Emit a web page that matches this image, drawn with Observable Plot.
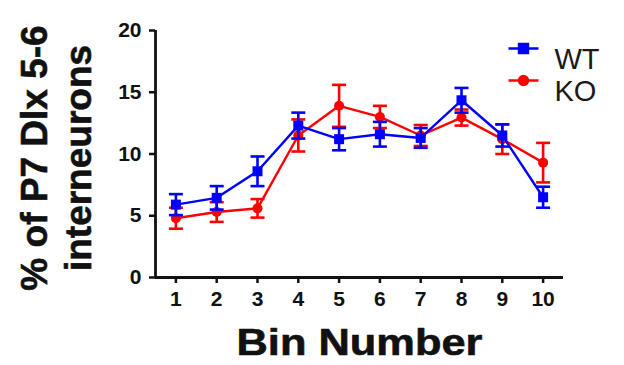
<!DOCTYPE html>
<html>
<head>
<meta charset="utf-8">
<script src="https://cdn.jsdelivr.net/npm/d3@7"></script>
<script src="https://cdn.jsdelivr.net/npm/@observablehq/plot@0.6"></script>
<style>
  html, body { margin: 0; padding: 0; background: #fff; }
</style>
</head>
<body>
<div id="chart"></div>
<script>
const bins = [1, 2, 3, 4, 5, 6, 7, 8, 9, 10];
const wtMean = [5.9, 6.45, 8.6, 12.3, 11.2, 11.6, 11.3, 14.35, 11.5, 6.5];
const wtErr  = [0.85, 0.95, 1.2, 1.05, 0.9, 1.0, 0.8, 1.0, 0.9, 0.85];
const koMean = [4.8, 5.3, 5.6, 11.5, 13.9, 13.0, 11.5, 12.95, 11.2, 9.3];
const koErr  = [0.85, 0.8, 0.75, 1.3, 1.7, 0.9, 0.85, 0.65, 1.2, 1.6];
const groups = ["WT", "KO"];
const colors = ["#0000ff", "#ff0000"];
const yTicks = [0, 5, 10, 15, 20];
const xDomain = [0.5, 10.5];
const yDomain = [0, 20];
const yLabel = "% of P7 Dlx 5-6\ninterneurons";
const xLabel = "Bin Number";

const rows = {
  WT: bins.map((b, i) => ({bin: b, group: "WT", mean: wtMean[i], err: wtErr[i]})),
  KO: bins.map((b, i) => ({bin: b, group: "KO", mean: koMean[i], err: koErr[i]}))
};
const shapes = {WT: "square", KO: "circle"};

const capSymbol = {draw(ctx) { ctx.moveTo(-7, 0); ctx.lineTo(7, 0); }};
const markerSymbol = {
  square: {draw(ctx) { ctx.rect(-5, -5, 10, 10); }},
  circle: {draw(ctx) { ctx.moveTo(5, 0); ctx.arc(0, 0, 5, 0, 2 * Math.PI); }}
};
const legendSymbol = (shape) => ({draw(ctx) {
  ctx.moveTo(-15, 0); ctx.lineTo(15, 0);
  if (shape === "square") { ctx.moveTo(-4.5, -4.5); ctx.rect(-4.5, -4.5, 9, 9); }
  else { ctx.moveTo(4.5, 0); ctx.arc(0, 0, 4.5, 0, 2 * Math.PI); }
}});

const seriesMarks = [];
for (const g of ["KO", "WT"]) {
  const data = rows[g];
  const c = colors[groups.indexOf(g)];
  seriesMarks.push(
    Plot.ruleX(data, {x: "bin", y1: d => d.mean - d.err, y2: d => d.mean + d.err, stroke: c, strokeWidth: 2.6}),
    Plot.dot(data, {x: "bin", y: d => d.mean + d.err, symbol: capSymbol, stroke: c, fill: "none", strokeWidth: 2.6}),
    Plot.dot(data, {x: "bin", y: d => d.mean - d.err, symbol: capSymbol, stroke: c, fill: "none", strokeWidth: 2.6}),
    Plot.line(data, {x: "bin", y: "mean", stroke: c, strokeWidth: 2.4}),
    Plot.dot(data, {x: "bin", y: "mean", symbol: markerSymbol[shapes[g]], fill: c, stroke: "none"})
  );
}

const legendMarks = groups.flatMap((g, i) => [
  Plot.dot([g], {frameAnchor: "top-right", dx: -40, dy: 18 + i * 32, symbol: legendSymbol(shapes[g]),
    fill: colors[i], stroke: colors[i], strokeWidth: 2.4}),
  Plot.text([g], {text: d => d, frameAnchor: "top-right", dx: -9, dy: 18 + i * 32, textAnchor: "start",
    fontSize: 29, fontWeight: "normal", fill: "#1a1a1a"})
]);

const chart = Plot.plot({
  width: 624,
  height: 365,
  marginLeft: 155,
  marginRight: 61,
  marginTop: 30,
  marginBottom: 88,
  style: {fontFamily: "'Liberation Sans', Arial, sans-serif", fontWeight: "bold", color: "#111", background: "#fff"},
  x: {domain: xDomain},
  y: {domain: yDomain},
  marks: [
    Plot.axisY({ticks: yTicks, tickSize: 6, tickPadding: 8, fontSize: 21, strokeWidth: 2.5, label: null, tickFormat: d => d}),
    Plot.axisX({ticks: bins, tickSize: 6, tickPadding: 8, fontSize: 21, strokeWidth: 2.5, label: null, tickFormat: d => d}),
    Plot.ruleY([yDomain[0]], {stroke: "#111", strokeWidth: 2.8}),
    Plot.ruleX([xDomain[0]], {stroke: "#111", strokeWidth: 2.8}),
    ...seriesMarks,
    ...legendMarks,
    Plot.text([yLabel], {text: d => d, frameAnchor: "left", rotate: -90, dx: -140, dy: 4, lineAnchor: "top",
      textAnchor: "middle", fontSize: 37, fontWeight: "bold", lineHeight: 1.2, fill: "#111",
      stroke: "#111", strokeWidth: 0.6}),
    Plot.text([xLabel], {text: d => d, frameAnchor: "bottom", lineAnchor: "top", dy: 51,
      fontSize: 37, fontWeight: "bold", fill: "#111", stroke: "#111", strokeWidth: 0.6})
  ]
});
// stretch the horizontal axis title to the width seen in the reference
for (const t of chart.querySelectorAll("text")) {
  if (t.textContent === xLabel) {
    t.setAttribute("textLength", 246);
    t.setAttribute("lengthAdjust", "spacingAndGlyphs");
  }
}
document.getElementById("chart").appendChild(chart);
</script>
</body>
</html>
